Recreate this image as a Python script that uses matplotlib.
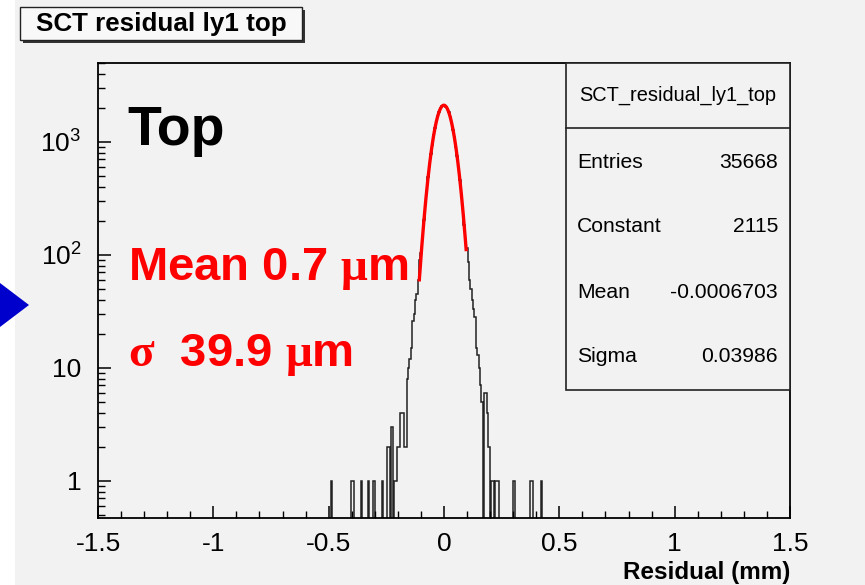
import numpy as np
import matplotlib.pyplot as plt
from matplotlib.patches import Rectangle, Polygon
from matplotlib.ticker import FixedLocator, LogLocator, MultipleLocator, NullFormatter

plt.rcParams['font.family'] = ['Liberation Sans', 'DejaVu Sans']
plt.rcParams['mathtext.fontset'] = 'custom'
plt.rcParams['mathtext.rm'] = 'Liberation Sans'
plt.rcParams['mathtext.it'] = 'Liberation Serif:bold'

W, H = 865, 585

# histogram: 500 bins from -1.5 to 1.5 mm
n_bins = 500
x_lo, x_hi = -1.5, 1.5
# contiguous bins around the peak, first bin starts at -0.246 mm
core_start = -0.246
core_counts = [
    2, 2, 0, 3, 0, 1, 1, 2, 2, 4,
    4, 4, 2, 2, 8, 10, 12, 15, 26, 30,
    40, 45, 60, 90, 104, 147, 205, 281, 369, 490,
    618, 782, 948, 1146, 1327, 1518, 1706, 1851, 1990, 2062,
    2118, 2101, 2060, 1951, 1830, 1655, 1487, 1282, 1103, 908,
    748, 586, 463, 345, 262, 186, 138, 115, 86, 60,
    50, 40, 33, 28, 15, 13, 10, 7, 5, 0,
    6, 6, 4, 2, 0, 1, 1, 0, 1, 1,
    1,
]
# isolated single entries in the tails (mm)
tail_x = [-0.489, -0.399, -0.393, -0.357, -0.327, -0.303, -0.267,
          0.303, 0.375, 0.381, 0.423]

# fit results (from stats box)
stat_name = 'SCT_residual_ly1_top'
stat_labels = ['Entries', 'Constant', 'Mean', 'Sigma']
stat_values = ['35668', '2115', '-0.0006703', '0.03986']
fit_const, fit_mean, fit_sigma = 2115, -0.0006703, 0.03986
fit_range = (-0.107, 0.096)

edges = np.linspace(x_lo, x_hi, n_bins + 1)
counts = np.zeros(n_bins)
i0 = int(round((core_start - x_lo) / (edges[1] - edges[0])))
counts[i0:i0 + len(core_counts)] += core_counts
counts += np.histogram(tail_x, edges)[0]

bg = '#f2f2f2'
fig = plt.figure(figsize=(W / 100, H / 100), dpi=100, facecolor='white')
fig.patches.append(Rectangle((15 / W, 0), 1 - 15 / W, 1, transform=fig.transFigure,
                             facecolor=bg, edgecolor='none', zorder=-10))


def fx(px):
    return px / W


def fy(py):
    return 1 - py / H


ax = fig.add_axes([fx(98), fy(518), fx(790) - fx(98), fy(63) - fy(518)])
ax.set_facecolor(bg)
ax.set_yscale('log')
ax.set_xlim(x_lo, x_hi)
ax.set_ylim(0.47, 5000)

ax.stairs(np.where(counts > 0, counts, 1e-2), edges, baseline=1e-2,
          color='#222222', lw=1.1)

xf = np.linspace(fit_range[0], fit_range[1], 300)
ax.plot(xf, fit_const * np.exp(-0.5 * ((xf - fit_mean) / fit_sigma) ** 2),
        color='red', lw=2.4)

for s in ax.spines.values():
    s.set_linewidth(1.3)
ax.xaxis.set_major_locator(MultipleLocator(0.5))
ax.xaxis.set_minor_locator(MultipleLocator(0.1))
ax.xaxis.set_major_formatter(plt.FuncFormatter(lambda v, p: '%g' % v))
ax.yaxis.set_major_locator(FixedLocator([1, 10, 100, 1000]))
ax.yaxis.set_minor_locator(LogLocator(subs=np.arange(2, 10)))
ax.yaxis.set_minor_formatter(NullFormatter())
ax.set_yticklabels(['1', '10', r'$\mathregular{10^{2}}$', r'$\mathregular{10^{3}}$'])
ax.tick_params(which='both', direction='in', top=False, right=False, labelsize=19)
ax.tick_params(which='major', length=9, width=1.1)
ax.tick_params(which='minor', length=5, width=1.0)
ax.tick_params(axis='x', pad=10)
ax.tick_params(axis='y', pad=12)

fig.text(fx(790), fy(572), 'Residual (mm)', ha='right', va='center',
         fontsize=17.5, fontweight='bold')

# title box with shadow
fig.patches.append(Rectangle((fx(23), fy(43)), fx(282), 33 / H, transform=fig.transFigure,
                             facecolor='#333333', edgecolor='none'))
fig.patches.append(Rectangle((fx(20), fy(40)), fx(282), 33 / H, transform=fig.transFigure,
                             facecolor='#f8f8f8', edgecolor='#222222', lw=1.0))
fig.text(fx(161), fy(24), 'SCT residual ly1 top', ha='center', va='center',
         fontsize=18.7, fontweight='bold')

# stats box
fig.patches.append(Rectangle((fx(566), fy(390)), fx(790) - fx(566), (390 - 63) / H,
                             transform=fig.transFigure, facecolor=bg,
                             edgecolor='#222222', lw=1.2, zorder=5))
fig.add_artist(plt.Line2D([fx(566), fx(790)], [fy(128), fy(128)], color='#222222',
                          lw=1.2, zorder=6))
fig.text(fx(678), fy(95), stat_name, ha='center', va='center', fontsize=14.4, zorder=7)
for i, (lab, val) in enumerate(zip(stat_labels, stat_values)):
    yy = fy(162 + i * 65)
    fig.text(fx(577), yy, lab, ha='left', va='center', fontsize=15.2, zorder=7)
    fig.text(fx(778), yy, val, ha='right', va='center', fontsize=15.2, zorder=7)

# annotations
fig.text(fx(127), fy(145), 'Top', ha='left', va='baseline', fontsize=40, fontweight='bold')
fig.text(fx(128), fy(280), r'Mean 0.7 $\mu$m', ha='left', va='baseline', fontsize=34,
         fontweight='bold', color='red')
fig.text(fx(128), fy(366), r'$\sigma$  39.9 $\mu$m', ha='left', va='baseline', fontsize=34,
         fontweight='bold', color='red')

# blue arrow marker at left edge
fig.patches.append(Polygon([(0, fy(283)), (fx(29), fy(305)), (0, fy(327))], closed=True,
                           transform=fig.transFigure, facecolor='#0000cc', edgecolor='none'))

fig.savefig('out.png', dpi=100, facecolor=fig.get_facecolor())
